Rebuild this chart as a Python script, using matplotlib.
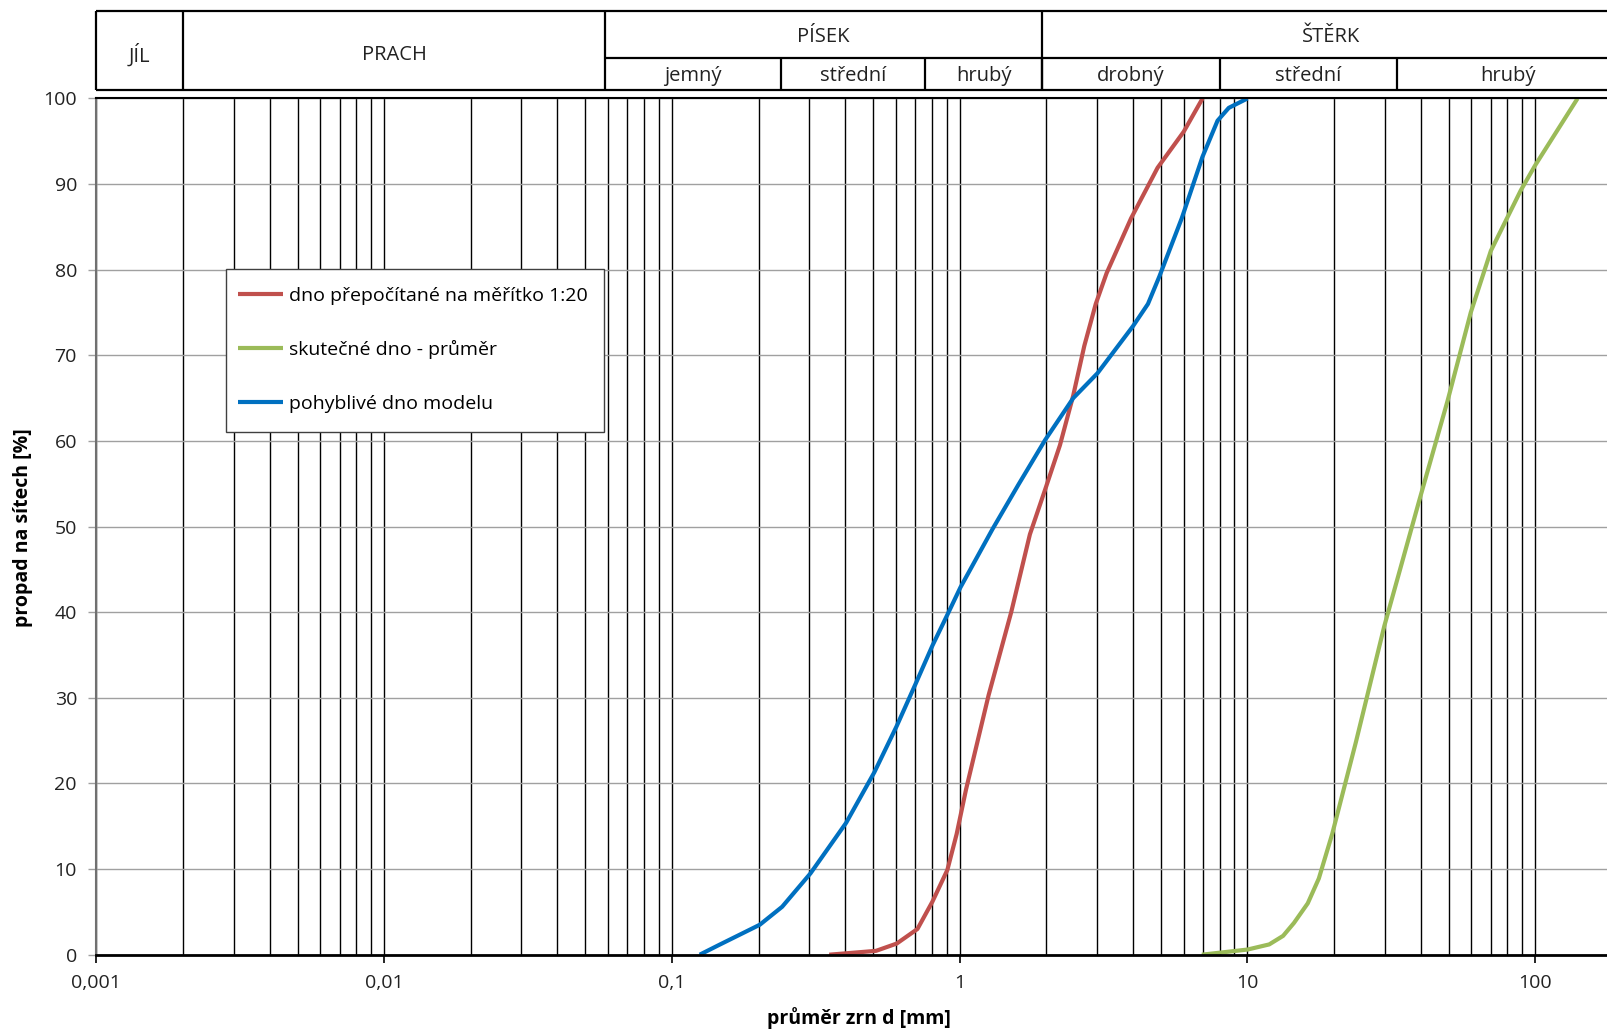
import numpy as np
import matplotlib
matplotlib.use('Agg')
import matplotlib.pyplot as plt
from matplotlib.patches import Rectangle
from matplotlib.ticker import LogLocator, FixedLocator, NullFormatter

plt.rcParams['font.family'] = ['Open Sans', 'DejaVu Sans']

# grain size curves (d in mm, passing in %)
red_d = [0.352, 0.512, 0.604, 0.713, 0.804, 0.906, 0.976, 1.052, 1.26, 1.51, 1.754,
         1.98, 2.23, 2.48, 2.71, 2.97, 3.24, 3.94, 4.87, 6.0, 6.98]
red_p = [0, 0.45, 1.3, 3.0, 6.2, 9.9, 14.1, 19.3, 30.3, 40, 49.1,
         54.3, 59.5, 65.3, 71.1, 76, 79.6, 86, 91.9, 96.1, 100]

green_d = [6.94, 10, 11.9, 13.3, 14.5, 16.2, 17.7, 19.7, 23.8, 29.9, 39.5, 49.6, 59.7,
           70.1, 89.2, 100, 140.3]
green_p = [0, 0.6, 1.2, 2.2, 3.7, 6.0, 8.9, 14.1, 24.8, 38.4, 53, 64.7, 75,
           82.2, 89.3, 92.2, 100]

blue_d = [0.1249, 0.145, 0.202, 0.2416, 0.303, 0.403, 0.505, 0.604, 0.702, 0.804, 0.906,
          1.006, 1.30, 1.60, 1.98, 2.48, 3.01, 4.0, 4.51, 4.94, 5.91, 6.98, 7.87, 8.61, 10]
blue_p = [0, 1.1, 3.5, 5.6, 9.5, 15.4, 21.3, 26.7, 31.6, 36.1, 39.7,
          42.9, 49.7, 54.9, 60.1, 65, 67.9, 73.4, 76, 79.2, 86, 93.2, 97.4, 98.9, 100]

labels = ['dno přepočítané na měřítko 1:20', 'skutečné dno - průměr', 'pohyblivé dno modelu']
colors = ['#C0504D', '#9BBB59', '#0070C0']

x_ticks = [0.001, 0.01, 0.1, 1, 10, 100]
x_ticklabels = ['0,001', '0,01', '0,1', '1', '10', '100']
y_ticks = list(range(0, 101, 10))

# soil classes for header table (boundaries as drawn in the header)
main_classes = ['JÍL', 'PRACH', 'PÍSEK', 'ŠTĚRK']
main_bounds = [0.001, 0.002, 0.0586, 1.93, 196]
sub_classes = ['jemný', 'střední', 'hrubý', 'drobný', 'střední', 'hrubý']
sub_bounds = [0.0586, 0.24, 0.76, 1.93, 8.05, 33, 196]

xmin, xmax = 0.001, 179
W, H = 1608, 1033

fig = plt.figure(figsize=(16.08, 10.33), dpi=100)
ax = fig.add_axes([0.05995, 0.0758, 0.94005, 0.8289])

ax.plot(red_d, red_p, color=colors[0], lw=3, label=labels[0], solid_capstyle='butt')
ax.plot(green_d, green_p, color=colors[1], lw=3, label=labels[1], solid_capstyle='butt')
ax.plot(blue_d, blue_p, color=colors[2], lw=3, label=labels[2], solid_capstyle='butt')

ax.set_xscale('log')
ax.set_xlim(xmin, xmax)
ax.set_ylim(0, 100)
ax.xaxis.set_major_locator(FixedLocator(x_ticks))
ax.set_xticklabels(x_ticklabels)
ax.xaxis.set_minor_locator(LogLocator(base=10, subs=np.arange(2, 10), numticks=20))
ax.xaxis.set_minor_formatter(NullFormatter())
ax.set_yticks(y_ticks)

ax.grid(True, which='both', axis='x', color='black', lw=1.0)
ax.grid(True, which='major', axis='y', color='#a0a0a0', lw=1.0)
ax.set_axisbelow(True)

ax.tick_params(axis='x', which='major', direction='out', length=6, width=1.2, color='black',
               labelsize=14, pad=8, labelcolor='#222222')
ax.tick_params(axis='x', which='minor', length=0)
ax.tick_params(axis='y', direction='out', length=6, width=1, color='#a0a0a0',
               labelsize=14, pad=8, labelcolor='#222222')

ax.spines['right'].set_visible(False)
ax.spines['top'].set_color('black')
ax.spines['top'].set_linewidth(1.5)
ax.spines['bottom'].set_color('black')
ax.spines['bottom'].set_linewidth(2)
ax.spines['left'].set_color('#707070')
ax.spines['left'].set_linewidth(1.5)

fig.text(859 / W, 1 - 1018 / H, 'průměr zrn d [mm]', ha='center', va='center',
         fontsize=14, fontweight='bold')
fig.text(22.6 / W, 1 - 528 / H, 'propad na sítech [%]', ha='center', va='center',
         rotation=90, fontsize=14, fontweight='bold')

# legend: frame drawn separately so vertical padding can differ from horizontal
box = Rectangle((225.6 / W, 1 - 431.7 / H), (604 - 225.6) / W, (431.7 - 268.7) / H,
                transform=fig.transFigure, facecolor='white', edgecolor='#404040',
                lw=1.0, zorder=4, clip_on=False)
ax.add_patch(box)
leg = ax.legend(loc='center left', bbox_to_anchor=(238 / W, 1 - 349.7 / H),
                bbox_transform=fig.transFigure, fontsize=14, frameon=False,
                labelspacing=1.82, handlelength=2.3, handletextpad=0.3,
                borderpad=0, borderaxespad=0)
leg.set_zorder(5)

# header table with soil classes
hax = fig.add_axes([0.05995, 0.9127, 0.94005, 0.0764])
hax.set_xscale('log')
hax.set_xlim(xmin, xmax)
hax.set_ylim(0, 1)
hax.axis('off')
mid = 0.41
lk = dict(color='black', lw=1.6, solid_capstyle='butt', clip_on=False)
hax.plot([xmin, main_bounds[-1]], [1, 1], **lk)
hax.plot([xmin, main_bounds[-1]], [0, 0], **lk)
hax.plot([xmin, xmin], [0, 1], **lk)
hax.plot([sub_bounds[0], sub_bounds[-1]], [mid, mid], **lk)
for b in main_bounds[1:-1]:
    hax.plot([b, b], [0, 1], **lk)
for b in sub_bounds[1:-1]:
    hax.plot([b, b], [0, mid], **lk)

for i, name in enumerate(main_classes):
    xc = np.sqrt(main_bounds[i] * main_bounds[i + 1])
    yc = 0.45 if i < 2 else 0.68
    hax.text(xc, yc, name, ha='center', va='center', fontsize=14.5, color='#222222')
for i, name in enumerate(sub_classes):
    xc = np.sqrt(sub_bounds[i] * sub_bounds[i + 1])
    hax.text(xc, 0.18, name, ha='center', va='center', fontsize=14.5, color='#222222')

fig.savefig('out.png', dpi=100)
